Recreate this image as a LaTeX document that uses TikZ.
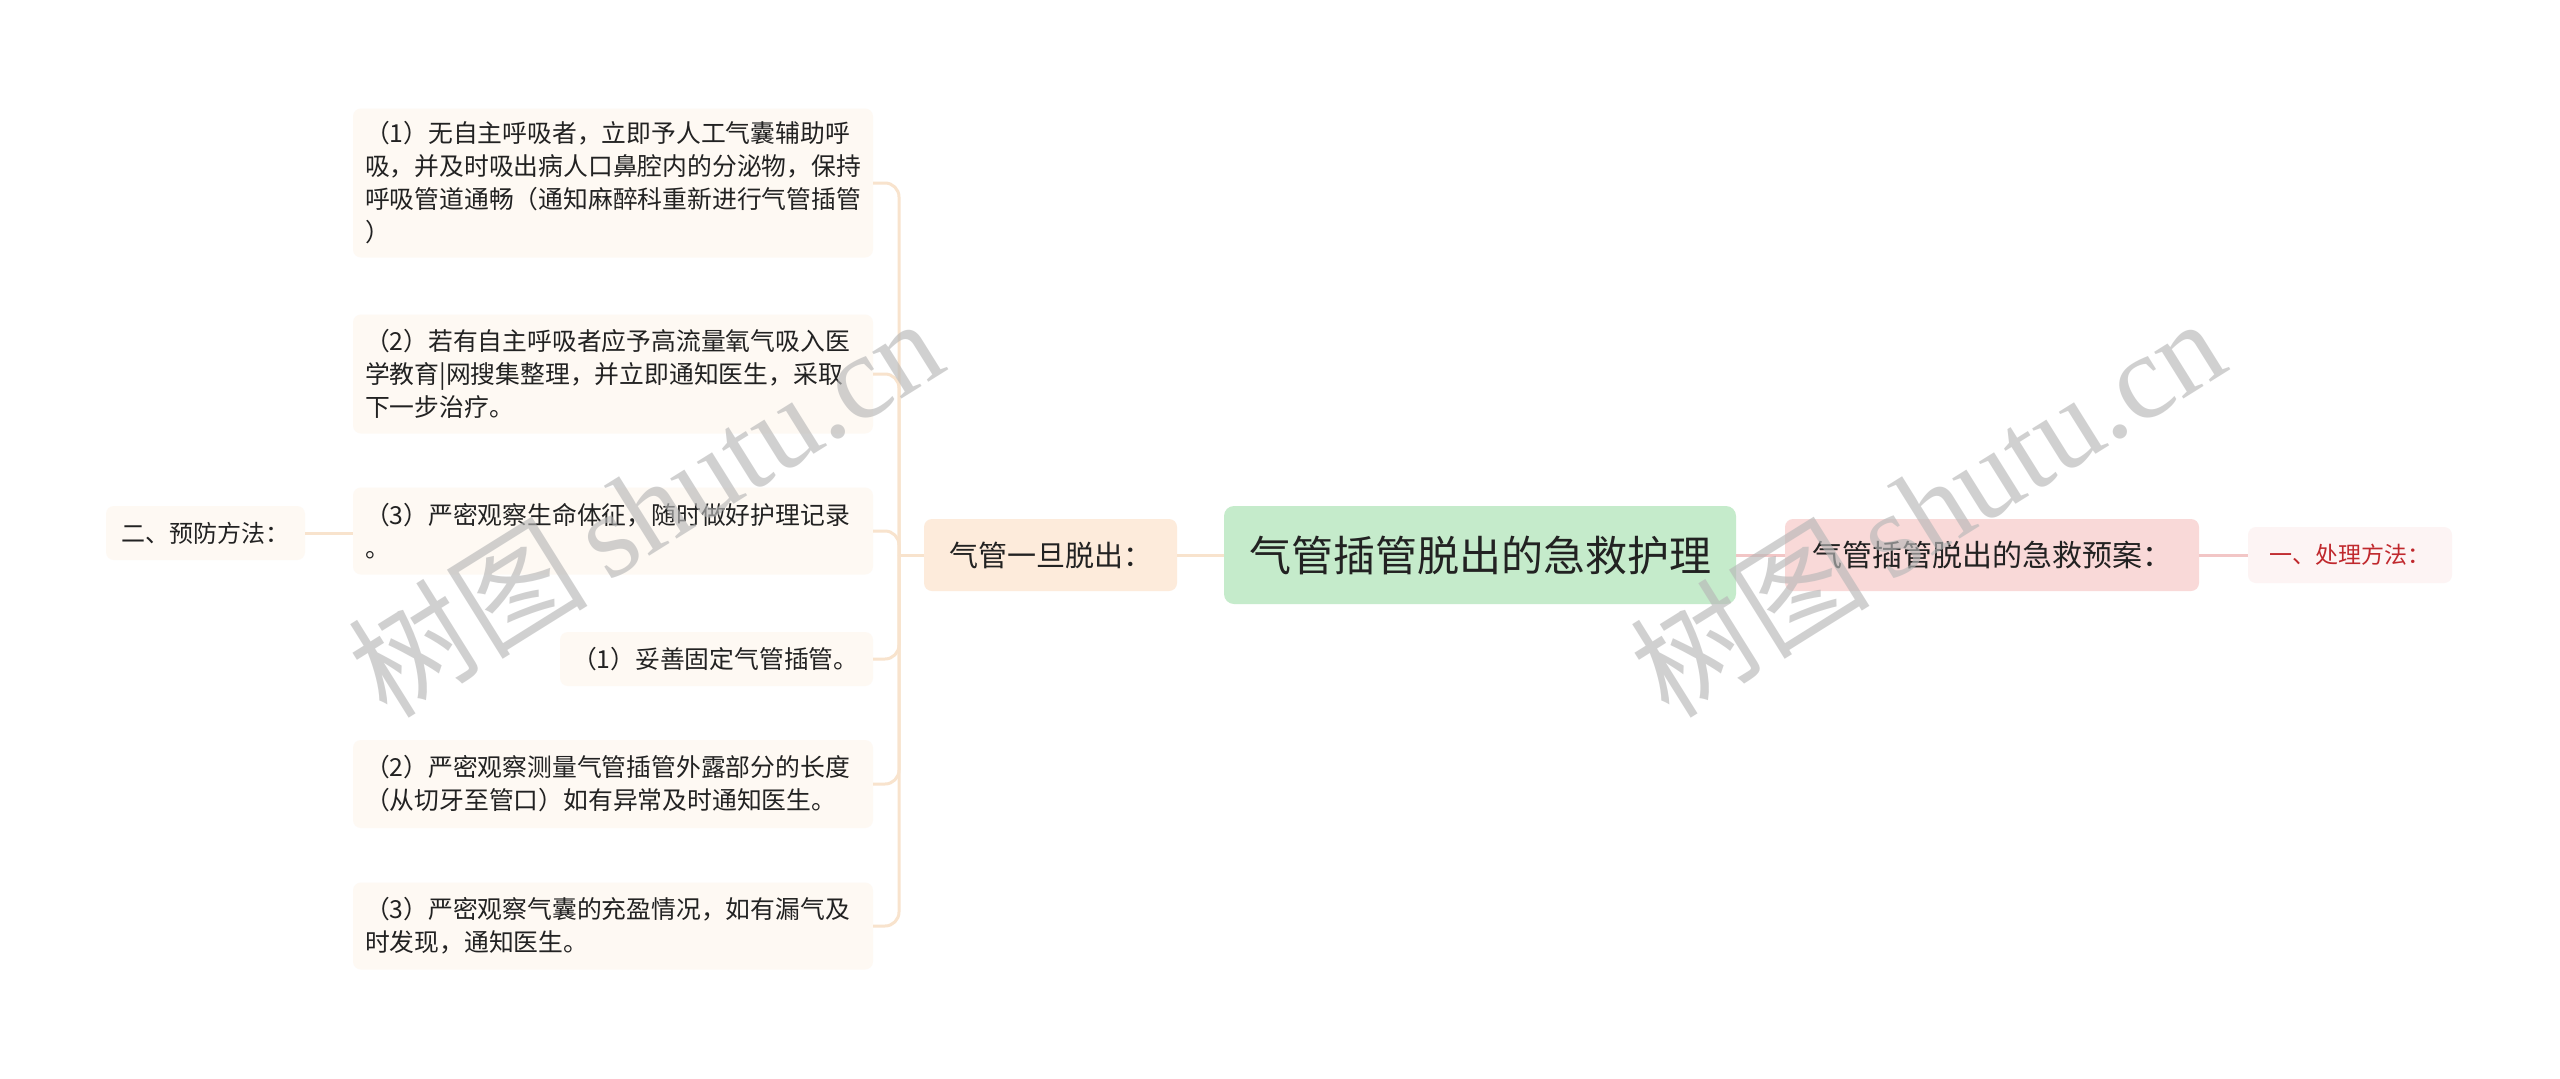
\documentclass[tikz,border=0pt]{standalone}
\usepackage{fontspec}
\setmainfont{Noto Sans CJK SC}
\newfontfamily\wmserif{Liberation Serif}
\definecolor{rootfill}{HTML}{C5EBCB}
\definecolor{peachfill}{HTML}{FDEBDB}
\definecolor{pinkfill}{HTML}{F9D9D8}
\definecolor{leaffill}{HTML}{FEF9F3}
\definecolor{redleaf}{HTML}{FDF4F4}
\definecolor{redtext}{HTML}{C0282D}
\definecolor{peachline}{HTML}{F8E3CD}
\definecolor{pinkline}{HTML}{F2C6C6}
\definecolor{txt}{HTML}{222222}
\definecolor{wm}{HTML}{B8B8B8}
\tikzset{
  box/.style={rounded corners=8pt, inner sep=0pt, text=txt, align=center},
  leaf/.style={box, fill=leaffill, align=left, inner xsep=12pt, font=\fontsize{24.8}{33}\selectfont},
  peachconn/.style={draw=peachline, line width=3pt},
  pinkconn/.style={draw=pinkline, line width=3pt},
  wmark/.style={text=wm, opacity=0.65, rotate=32, inner sep=0pt}
}
\begin{document}
\begin{tikzpicture}[x=1pt,y=-1pt]
\useasboundingbox[fill=white] (0,0) rectangle (2560,1079);

% main nodes
\node[box, fill=rootfill, rounded corners=10pt, minimum width=512pt, minimum height=98pt,
      font=\fontsize{42}{50}\selectfont] (root) at (1480,555) {气管插管脱出的急救护理};
\node[box, fill=peachfill, minimum width=253pt, minimum height=72pt,
      font=\fontsize{29}{35}\selectfont] (a) at (1050.5,555) {气管一旦脱出：};
\node[box, fill=pinkfill, minimum width=414pt, minimum height=72pt,
      font=\fontsize{30}{36}\selectfont] (b) at (1992,555) {气管插管脱出的急救预案：};
\node[box, fill=redleaf, text=redtext, minimum width=204pt, minimum height=56pt,
      font=\fontsize{23}{28}\selectfont] (b1) at (2350,555) {一、处理方法：};
\node[box, fill=leaffill, minimum width=199pt, minimum height=54pt,
      font=\fontsize{24}{29}\selectfont] (p) at (205.5,533) {二、预防方法：};

% leaves
\node[leaf, text width=496pt, minimum height=149pt] (l1) at (613,183)
  {（1）无自主呼吸者，立即予人工气囊辅助呼\\吸，并及时吸出病人口鼻腔内的分泌物，保持\\呼吸管道通畅（通知麻醉科重新进行气管插管\\）};
\node[leaf, text width=496pt, minimum height=119pt] (l2) at (613,374)
  {（2）若有自主呼吸者应予高流量氧气吸入医\\学教育|网搜集整理，并立即通知医生，采取\\下一步治疗。};
\node[leaf, text width=496pt, minimum height=87pt] (l3) at (613,531)
  {（3）严密观察生命体征，随时做好护理记录\\。};
\node[leaf, text width=289pt, minimum height=54pt] (l4) at (716.5,659)
  {（1）妥善固定气管插管。};
\node[leaf, text width=496pt, minimum height=88pt] (l5) at (613,784)
  {（2）严密观察测量气管插管外露部分的长度\\（从切牙至管口）如有异常及时通知医生。};
\node[leaf, text width=496pt, minimum height=87pt] (l6) at (613,926)
  {（3）严密观察气囊的充盈情况，如有漏气及\\时发现，通知医生。};

% connectors
\coordinate (J) at (899,555);
\draw[peachconn] (root.west) -- (a.east);
\draw[pinkconn] (root.east) -- (b.west);
\draw[pinkconn] (b.east) -- (b1.west);
\draw[peachconn] (a.west) -- (J);
\foreach \l in {l1,l2,l3,l4,l5,l6}{
  \draw[peachconn, rounded corners=14pt] (J) -- (J |- \l.east) -- (\l.east);
}
\draw[peachconn] (p.east) -- (l3.west |- p.east);

% watermarks
\node[wmark, font=\fontsize{120}{125}\selectfont] (w1) at (645,506) {树图\,{\wmserif shutu.cn}};
\node[wmark, font=\fontsize{120}{125}\selectfont] (w2) at (1927,506) {树图\,{\wmserif shutu.cn}};
\end{tikzpicture}
\end{document}
